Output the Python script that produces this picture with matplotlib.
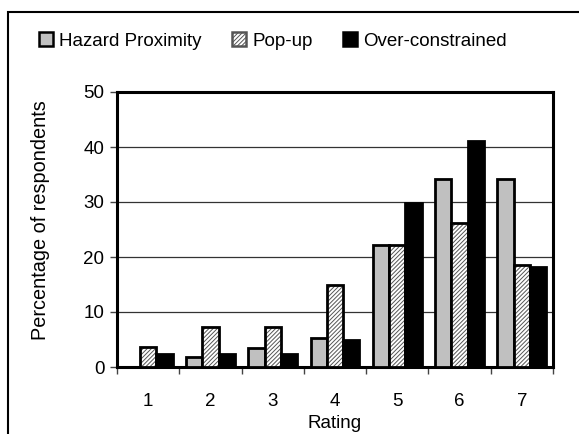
import matplotlib
matplotlib.use("Agg")
import matplotlib.pyplot as plt
import numpy as np
from matplotlib.patches import Patch, Rectangle

ratings = ["1", "2", "3", "4", "5", "6", "7"]
hazard_proximity = [0.0, 1.9, 3.4, 5.2, 22.2, 34.1, 34.1]
pop_up = [3.7, 7.3, 7.3, 15.0, 22.2, 26.1, 18.5]
over_constrained = [2.4, 2.4, 2.4, 4.9, 29.9, 41.1, 18.2]

plt.rcParams["font.family"] = ["Liberation Sans", "DejaVu Sans"]
plt.rcParams["hatch.linewidth"] = 0.7

fig = plt.figure(figsize=(5.79, 4.34), dpi=100)
ax = fig.add_axes([117 / 579, 1 - 367 / 434, (553 - 117) / 579, (367 - 92) / 434])

x = np.arange(len(ratings)) + 1
w = 0.262
edge_lw = 2.0
fs = 13.5

ax.bar(x - w, hazard_proximity, w, color="#c0c0c0", edgecolor="black", linewidth=edge_lw, zorder=3)
# hatched fill first, then a black outline on top
ax.bar(x, pop_up, w, color="white", edgecolor="#555555", hatch="////////", linewidth=0, zorder=3)
ax.bar(x, pop_up, w, color="none", edgecolor="black", linewidth=edge_lw, zorder=4)
ax.bar(x + w, over_constrained, w, color="black", edgecolor="black", linewidth=edge_lw, zorder=3)

ax.set_xlim(0.5, 7.5)
ax.set_ylim(0, 50)
ax.set_yticks(range(0, 51, 10))
ax.set_xticks(x)
ax.set_xticklabels(ratings)
ax.set_xticks(np.arange(0.5, 8.0, 1.0), minor=True)
ax.tick_params(axis="x", which="major", length=0, pad=19, labelsize=fs)
ax.tick_params(axis="x", which="minor", length=5, width=1, color="#444444")
ax.tick_params(axis="y", length=5, width=1, color="#444444", labelsize=fs, pad=4)
ax.yaxis.grid(True, color="#333333", linewidth=0.9, zorder=0)
ax.set_axisbelow(True)
for s in ax.spines.values():
    s.set_linewidth(2.2)
    s.set_color("black")

ax.set_xlabel("Rating", fontsize=fs, labelpad=3)
ax.set_ylabel("Percentage of respondents", fontsize=14.3)
ax.yaxis.set_label_coords(-0.154, 0.535)

handles = [
    Patch(facecolor="#c0c0c0", edgecolor="black", linewidth=1.8),
    Patch(facecolor="white", edgecolor="#555555", hatch="////////", linewidth=1.8),
    Patch(facecolor="black", edgecolor="black", linewidth=1.8),
]
leg = fig.legend(handles, ["Hazard Proximity", "Pop-up", "Over-constrained"], loc="center",
                 bbox_to_anchor=(273 / 579, 1 - 41 / 434), ncol=3, frameon=False, fontsize=fs,
                 handlelength=0.75, handleheight=0.75, handletextpad=0.3, columnspacing=1.65)

fig.patches.append(Rectangle((8 / 579, -0.1), 1.0, 1 - 12 / 434 + 0.1, transform=fig.transFigure,
                             fill=False, edgecolor="black", linewidth=1.5))

fig.savefig("out.png", dpi=100)
